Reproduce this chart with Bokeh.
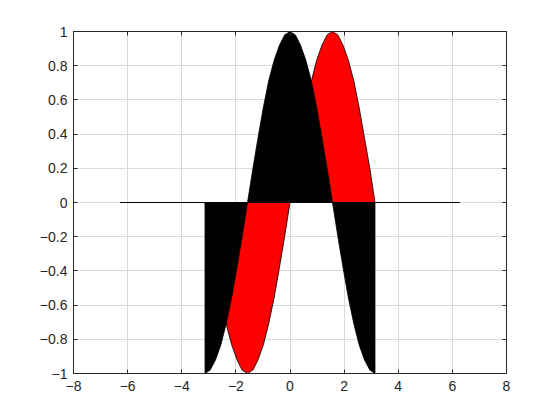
from bokeh.plotting import figure
from bokeh.models import Range1d, FixedTicker, LinearAxis, CustomJSTickFormatter
from bokeh.embed import file_html
from bokeh.resources import INLINE

# sample positions (x) and the two curves
x_vals = [-3.14, -2.95, -2.75, -2.55, -2.36, -2.16, -1.96, -1.77, -1.57, -1.37, -1.18,
          -0.98, -0.79, -0.59, -0.39, -0.20, 0.0, 0.20, 0.39, 0.59, 0.79, 0.98, 1.18,
          1.37, 1.57, 1.77, 1.96, 2.16, 2.36, 2.55, 2.75, 2.95, 3.14]
black_vals = [-1.0, -0.98, -0.92, -0.83, -0.71, -0.56, -0.38, -0.20, 0.0, 0.20, 0.38,
              0.56, 0.71, 0.83, 0.92, 0.98, 1.0, 0.98, 0.92, 0.83, 0.71, 0.56, 0.38,
              0.20, 0.0, -0.20, -0.38, -0.56, -0.71, -0.83, -0.92, -0.98, -1.0]
red_vals = [0.0, -0.20, -0.38, -0.56, -0.71, -0.83, -0.92, -0.98, -1.0, -0.98, -0.92,
            -0.83, -0.71, -0.56, -0.38, -0.20, 0.0, 0.20, 0.38, 0.56, 0.71, 0.83, 0.92,
            0.98, 1.0, 0.98, 0.92, 0.83, 0.71, 0.56, 0.38, 0.20, 0.0]
baseline_x = [-6.28, 6.28]
baseline_y = [0.0, 0.0]

x_ticks = [-8, -6, -4, -2, 0, 2, 4, 6, 8]
y_ticks = [-1, -0.8, -0.6, -0.4, -0.2, 0, 0.2, 0.4, 0.6, 0.8, 1]

p = figure(frame_width=433, frame_height=342, output_backend="svg", toolbar_location=None,
           x_range=Range1d(-8, 8), y_range=Range1d(-1, 1),
           min_border_left=73, min_border_top=31, min_border_right=40, min_border_bottom=35,
           background_fill_color="white", border_fill_color="white")

fmt = CustomJSTickFormatter(code="""
var v = Math.round(tick*10)/10;
var s = Math.abs(v).toString();
return (v < 0 ? "\u2212" : "") + s;
""")

font = "Liberation Sans"
for ax in [p.xaxis[0], p.yaxis[0]]:
    ax.major_tick_in = 4
    ax.major_tick_out = 0
    ax.minor_tick_in = 0
    ax.minor_tick_out = 0
    ax.axis_line_color = "#262626"
    ax.major_tick_line_color = "#262626"
    ax.major_label_text_font = font
    ax.major_label_text_font_size = "14px"
    ax.major_label_text_color = "#262626"
    ax.formatter = fmt
p.xaxis[0].ticker = FixedTicker(ticks=x_ticks)
p.yaxis[0].ticker = FixedTicker(ticks=y_ticks)
p.xaxis[0].major_label_standoff = 7
p.yaxis[0].major_label_standoff = 6

blank = CustomJSTickFormatter(code="return '';")
for loc, ticks in [("above", x_ticks), ("right", y_ticks)]:
    ax = LinearAxis(ticker=FixedTicker(ticks=ticks), major_tick_in=4, major_tick_out=0,
                    minor_tick_in=0, minor_tick_out=0, axis_line_color="#262626",
                    major_tick_line_color="#262626", formatter=blank,
                    major_label_standoff=0)
    p.add_layout(ax, loc)

p.xgrid.ticker = FixedTicker(ticks=x_ticks)
p.ygrid.ticker = FixedTicker(ticks=y_ticks)
p.grid.grid_line_color = "#dadada"
p.grid.grid_line_width = 1
p.outline_line_color = "#262626"

# red filled area with thin black outline
p.patch(x_vals + [x_vals[-1], x_vals[0]], red_vals + [0.0, 0.0],
        fill_color="#ff0000", line_color="black", line_width=0.8)
# black filled area on top
p.patch(x_vals + [x_vals[-1], x_vals[0]], black_vals + [0.0, 0.0],
        fill_color="black", line_color="black", line_width=0.8)
# baseline
p.line(baseline_x, baseline_y, line_color="black", line_width=1)

open("out.html", "w").write(file_html(p, INLINE))
